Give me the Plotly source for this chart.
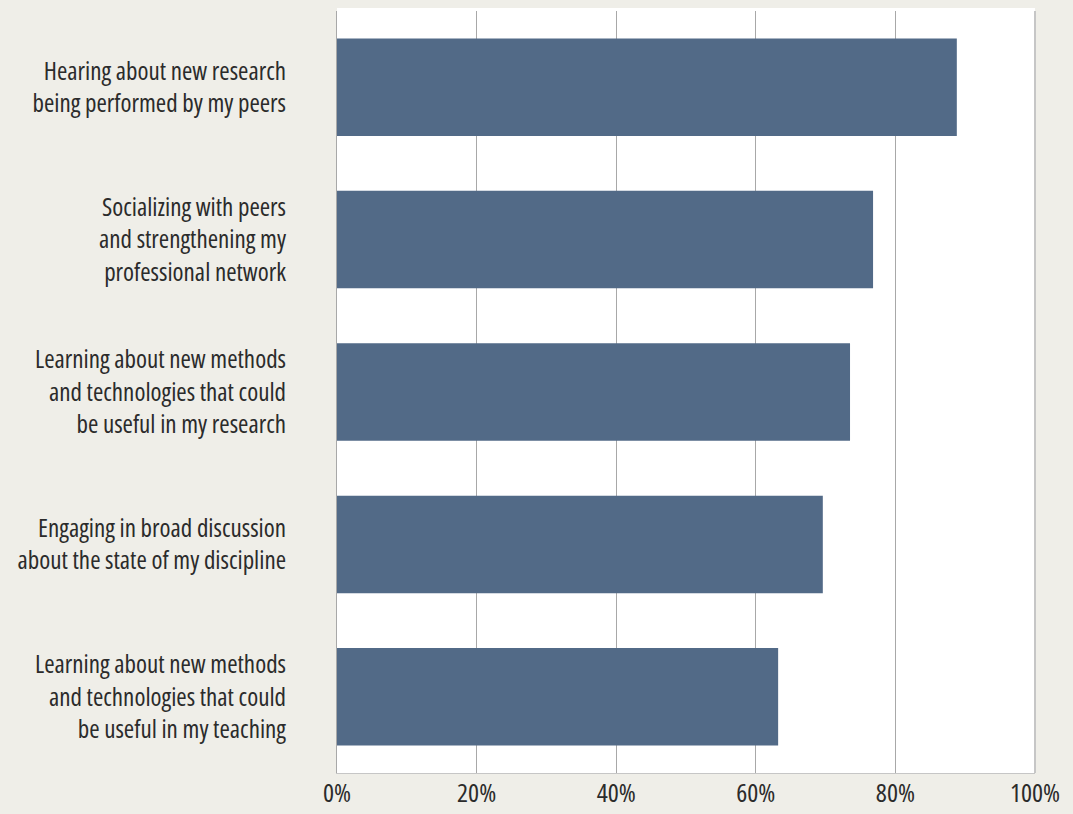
import plotly.graph_objects as go

# Survey categories (top to bottom) and share of respondents
categories = [
    "Hearing about new research<br>being performed by my peers",
    "Socializing with peers<br>and strengthening my<br>professional network",
    "Learning about new methods<br>and technologies that could<br>be useful in my research",
    "Engaging in broad discussion<br>about the state of my discipline",
    "Learning about new methods<br>and technologies that could<br>be useful in my teaching",
]
values = [88.8, 76.8, 73.5, 69.6, 63.2]
tick_values = [0, 20, 40, 60, 80, 100]
tick_labels = ["0%", "20%", "40%", "60%", "80%", "100%"]

FONT = "Open Sans, Noto Sans, DejaVu Sans Condensed, sans-serif"
BG = "#efeee8"
BAR = "#526a87"
TEXT = "#2b2b2b"

fig = go.Figure(
    go.Bar(
        x=values,
        y=categories,
        orientation="h",
        marker=dict(color=BAR, line=dict(width=0)),
        width=0.64,
        hoverinfo="skip",
    )
)

fig.update_layout(
    width=1073,
    height=814,
    margin=dict(l=337, r=38, t=11, b=41, autoexpand=False),
    paper_bgcolor=BG,
    plot_bgcolor="white",
    showlegend=False,
    font=dict(family=FONT, color=TEXT),
    shapes=[
        # white strip continuing the plot panel slightly above the grid
        dict(type="rect", xref="paper", yref="paper", x0=0, x1=1, y0=1, y1=1.004,
             fillcolor="white", line=dict(width=0), layer="below"),
        # right border of the panel
        dict(type="line", xref="paper", yref="paper", x0=1, x1=1, y0=0, y1=1,
             line=dict(color="#c6c6c6", width=2)),
    ],
)

fig.update_xaxes(
    range=[0, 100],
    tickvals=tick_values,
    ticktext=tick_labels,
    showgrid=True,
    gridcolor="#a8a8a8",
    gridwidth=1,
    zeroline=False,
    showline=True,
    linecolor="#c6c6c6",
    linewidth=1,
    ticks="",
    automargin=False,
    ticklabelstandoff=-3,
    tickfont=dict(size=26, family=FONT, color=TEXT, weight=370),
    fixedrange=True,
)

fig.update_yaxes(
    categoryorder="array",
    categoryarray=categories[::-1],
    range=[-0.5, 4.5],
    showgrid=False,
    zeroline=False,
    showline=True,
    linecolor="#a8a8a8",
    linewidth=1,
    ticks="",
    automargin=False,
    ticklabelstandoff=45,
    tickfont=dict(size=25, family=FONT, color=TEXT, weight=370),
    fixedrange=True,
)

# Condensed width for all chart text
condense = """
var s = document.createElement('style');
s.textContent = 'svg text { font-stretch: 87.5%; }';
document.head.appendChild(s);
"""

fig.write_html("out.html", post_script=condense)
